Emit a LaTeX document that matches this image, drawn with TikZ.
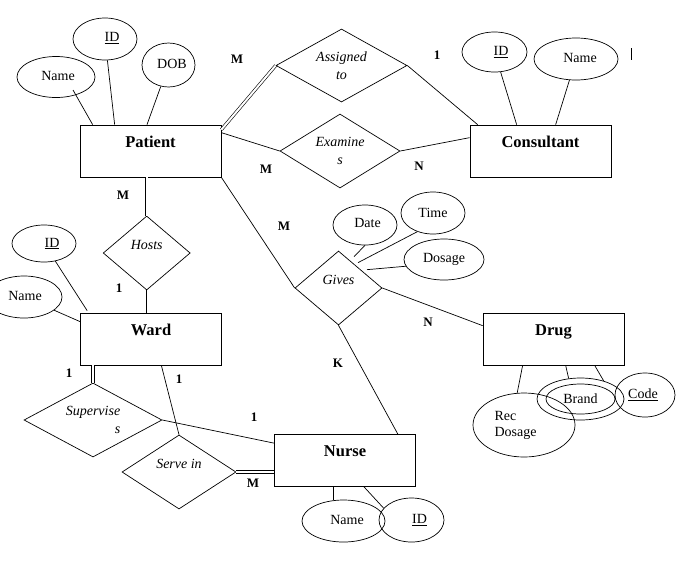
\documentclass[tikz,border=0pt]{standalone}
\usepackage{fontspec}
\setmainfont{Liberation Serif}
\usetikzlibrary{shapes.geometric}
\newcommand{\shtext}[3]{\makebox[0pt]{\hspace*{#1}\raisebox{#2}{#3}}}
\begin{document}
\begin{tikzpicture}[x=1pt,y=-1pt,line width=0.7pt,
 entity/.style={draw, rectangle, minimum width=141pt, inner xsep=0pt, inner ysep=0pt, text height=22pt, text depth=30pt, font=\fontsize{16.5}{19}\selectfont\bfseries},
 attr/.style={draw, ellipse, inner sep=0pt, font=\fontsize{14}{16}\selectfont},
 rel/.style={draw, diamond, inner sep=0pt},
 reltext/.style={align=center, inner sep=0pt, font=\fontsize{14}{17.5}\selectfont\itshape},
 card/.style={inner sep=0pt, font=\fontsize{13}{15}\selectfont\bfseries},
 dbl/.style={double, double distance=2pt, line width=0.6pt}]
\useasboundingbox (0,0) rectangle (695,560);

% entities
\node[entity] (patient) at (150.5,151) {Patient};
\node[entity] (consultant) at (540.5,151) {Consultant};
\node[entity] (ward) at (151,339) {Ward};
\node[entity] (drug) at (553.5,339) {Drug};
\node[entity] (nurse) at (345,460.5) {Nurse};

% relationships
\node[rel, minimum width=131pt, minimum height=73pt, label={[reltext]center:{Assigned\\to}}] (assigned) at (341.5,65.5) {};
\node[rel, minimum width=120pt, minimum height=74pt, label={[reltext]center:{Examine\\s}}] (examines) at (340,151) {};
\node[rel, minimum width=87pt, minimum height=74pt, label={[reltext, yshift=8pt]center:Hosts}] (hosts) at (146.7,253) {};
\node[rel, minimum width=87pt, minimum height=74pt, label={[reltext, yshift=8pt]center:Gives}] (gives) at (338.5,288) {};
\node[rel, minimum width=138pt, minimum height=74pt, label={[reltext, align=right]center:{Supervise\\s}}] (supervises) at (93,420) {};
\node[rel, minimum width=114pt, minimum height=74pt, label={[reltext, yshift=8pt]center:Serve in}] (servein) at (179,472) {};

% attributes of Patient
\node[attr, minimum width=78pt, minimum height=41pt] (pname) at (56,77) {\shtext{4pt}{3pt}{Name}};
\node[attr, minimum width=64pt, minimum height=42pt] (pid) at (105,39) {\shtext{14pt}{4pt}{\underline{ID}}};
\node[attr, minimum width=53pt, minimum height=44pt] (pdob) at (168.5,65) {\shtext{7pt}{2pt}{DOB}};

% attributes of Consultant
\node[attr, minimum width=65pt, minimum height=40pt] (cid) at (494.5,52) {\shtext{13pt}{2pt}{\underline{ID}}};
\node[attr, minimum width=84pt, minimum height=42pt] (cname) at (576,59) {\shtext{8pt}{2pt}{Name}};
\draw (631,48) -- (631,60);

% attributes of Ward
\node[attr, minimum width=64pt, minimum height=37pt] (wid) at (44,243.5) {\shtext{16pt}{0pt}{\underline{ID}}};
\node[attr, minimum width=76pt, minimum height=42pt] (wname) at (24,297) {\shtext{2pt}{2pt}{Name}};

% attributes of Gives
\node[attr, minimum width=64pt, minimum height=40pt] (date) at (365,225) {\shtext{5pt}{4pt}{Date}};
\node[attr, minimum width=64pt, minimum height=42pt] (time) at (433,213) {Time};
\node[attr, minimum width=80pt, minimum height=41pt] (dosage) at (444,259.5) {\shtext{0pt}{2pt}{Dosage}};

% attributes of Drug
\node[attr, minimum width=102pt, minimum height=64pt] (rec) at (524,425) {\shtext{-17pt}{0pt}{\begin{tabular}{@{}l@{}}Rec\\Dosage\end{tabular}}};
\node[attr, minimum width=87pt, minimum height=42pt] (brand) at (580.5,399) {};
\node[attr, minimum width=69pt, minimum height=30pt] (brandin) at (580.5,399) {Brand};
\node[attr, minimum width=60pt, minimum height=44pt] (code) at (645,395) {\shtext{-4pt}{2pt}{\underline{Code}}};

% attributes of Nurse
\node[attr, minimum width=83pt, minimum height=42pt] (nname) at (343.5,521) {\shtext{7pt}{2pt}{Name}};
\node[attr, minimum width=65pt, minimum height=44pt] (nid) at (411.5,520) {\shtext{16pt}{2pt}{\underline{ID}}};

% relationship connectors
\draw[dbl] ([yshift=-5pt]patient.north east) -- (assigned.west);
\draw (assigned.east) -- ([xshift=8pt]consultant.north west);
\draw ([yshift=-8pt]patient.north east) -- (examines.west);
\draw (examines.east) -- ([yshift=-13pt]consultant.north west);
\draw[dbl] (hosts.north |- patient.south) -- (hosts.north);
\draw (hosts.south) -- (hosts.south |- ward.north);
\draw (patient.south east) -- (gives.west);
\draw (gives.east) -- ([yshift=-13pt]drug.north west);
\draw (gives.south) -- ([xshift=-18pt]nurse.north east);
\draw[dbl] (supervises.north |- ward.south) -- (supervises.north);
\draw (supervises.east) -- ([yshift=-9pt]nurse.north west);
\draw ([xshift=-60.5pt]ward.south east) -- (servein.north);
\draw[dbl] (servein.east) -- (servein.east -| nurse.west);

% attribute connectors
\draw ([xshift=17pt,yshift=-13pt]pname.center) -- ([xshift=13pt]patient.north west);
\draw (pid) -- ([xshift=35pt]patient.north west);
\draw (pdob) -- ([xshift=-3.5pt]patient.north);
\draw (cid) -- ([xshift=47pt]consultant.north west);
\draw (cname) -- ([xshift=86pt]consultant.north west);
\draw (wid) -- ([xshift=7pt,yshift=2pt]ward.north west);
\draw (wname) -- ([yshift=-9pt]ward.north west);
\draw (date.south) -- ([xshift=15.5pt,yshift=-6pt]gives.north);
\draw (time.230) -- ([xshift=19.5pt,yshift=-12pt]gives.north);
\draw (dosage.190) -- ([xshift=28.5pt,yshift=-19pt]gives.north);
\draw ([xshift=40pt]drug.south west) -- (rec.102);
\draw ([xshift=83pt]drug.south west) -- (brand.120);
\draw ([xshift=112pt]drug.south west) -- (brand.38);
\draw ([xshift=-12pt]nurse.south) -- ([xshift=-12pt]nurse.south |- nname.north);
\draw ([xshift=19pt]nurse.south) -- (nid.157);

% cardinalities
\node[card] (c1) at (237,59) {M};
\node[card] (c2) at (437,55) {1};
\node[card] (c3) at (266,169) {M};
\node[card] (c4) at (419,166) {N};
\node[card] (c5) at (123,195) {M};
\node[card] (c6) at (119,288) {1};
\node[card] (c7) at (284,226) {M};
\node[card] (c8) at (428,322) {N};
\node[card] (c9) at (338,363) {K};
\node[card] (c10) at (69,373) {1};
\node[card] (c11) at (179,379) {1};
\node[card] (c12) at (254,417) {1};
\node[card] (c13) at (253,483) {M};
\end{tikzpicture}
\end{document}
